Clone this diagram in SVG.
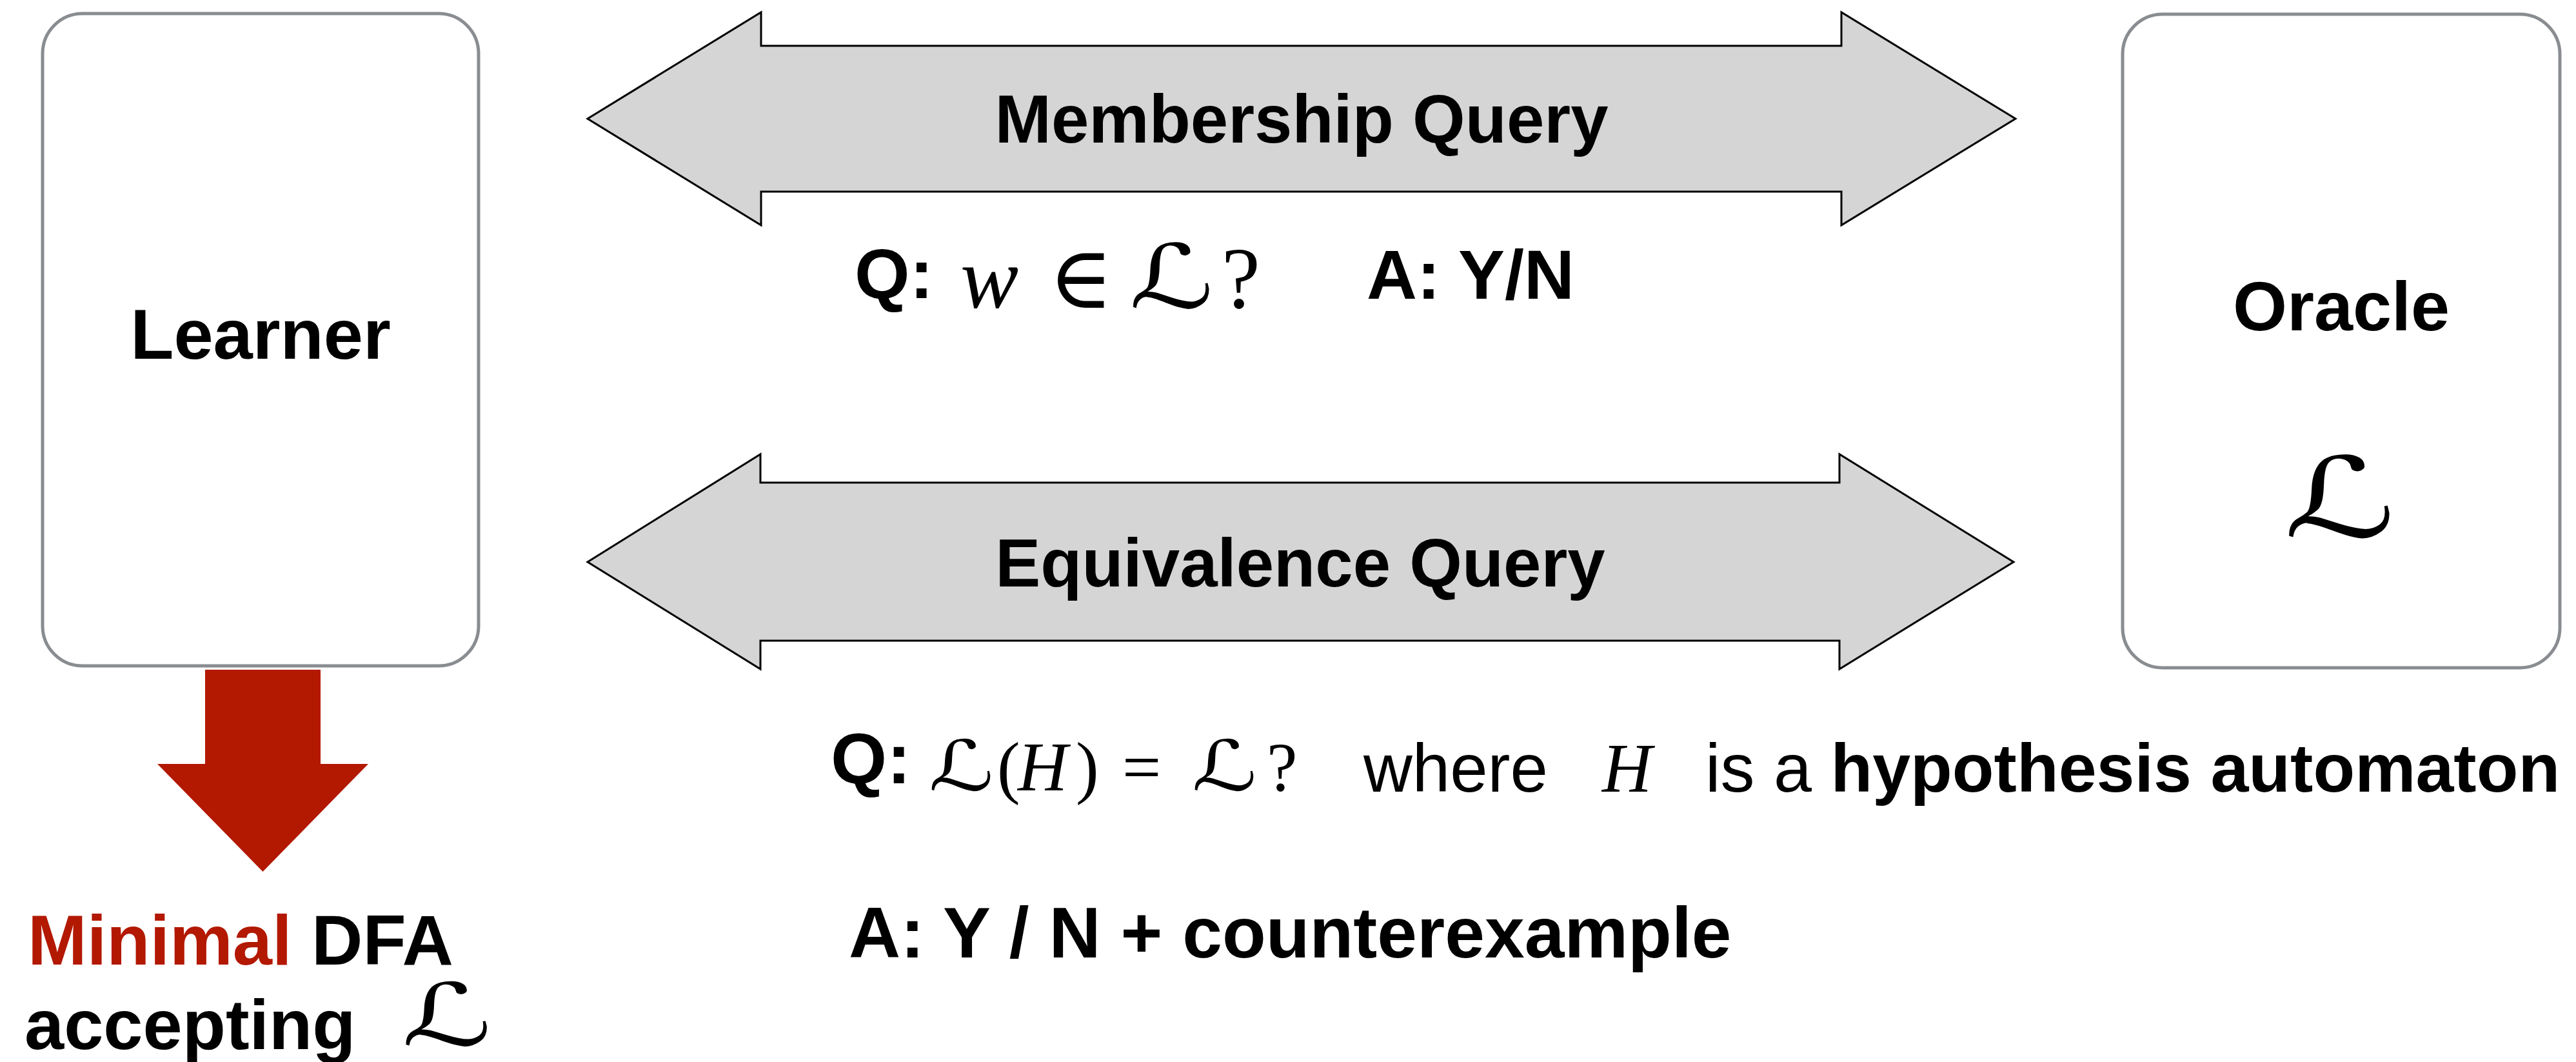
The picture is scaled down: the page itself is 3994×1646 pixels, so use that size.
<svg xmlns="http://www.w3.org/2000/svg" width="3994" height="1646" viewBox="0 0 3994 1646">
<style>
.box{fill:#ffffff;stroke:#898c90;stroke-width:5}
.dbl{fill:#d5d5d5;stroke:#000000;stroke-width:3;stroke-linejoin:miter}
.red{fill:#b31800}
.b{font-family:"Liberation Sans",Arial,sans-serif;font-weight:bold;fill:#000}
.r{font-family:"Liberation Sans",Arial,sans-serif;font-weight:normal;fill:#000}
.m{font-family:"Liberation Serif","DejaVu Serif",serif;fill:#000}
.mi{font-family:"Liberation Serif","DejaVu Serif",serif;font-style:italic;fill:#000}
.sc{font-family:"DejaVu Serif","DejaVu Sans",serif;fill:#000}
</style>
<rect width="3994" height="1646" fill="#ffffff"/>
<g id="learner">
<rect class="box" x="66" y="21" width="676" height="1011" rx="62" ry="62"/>
<text class="b" x="404" y="556" font-size="110" text-anchor="middle">Learner</text>
</g>
<g id="oracle">
<rect class="box" x="3291" y="22" width="678" height="1013" rx="62" ry="62"/>
<text class="b" x="3630" y="512" font-size="108" text-anchor="middle">Oracle</text>
<text class="sc" transform="translate(3628,832) scale(1.4,1)" font-size="172" text-anchor="middle">ℒ</text>
</g>
<g id="connectors">
<polygon class="dbl" points="911,184 1180,19 1180,71 2855,71 2855,19 3125,184 2855,349 2855,297 1180,297 1180,349"/>
<polygon class="dbl" points="911,871 1179,704 1179,748 2852,748 2852,704 3122,871 2852,1037 2852,993 1179,993 1179,1037"/>
<polygon class="red" points="318,1038 497,1038 497,1184 571,1184 407.5,1351 244,1184 318,1184"/>
<text class="b" x="2018" y="221" font-size="105" text-anchor="middle">Membership Query</text>
<text class="b" x="2016" y="909" font-size="105" text-anchor="middle">Equivalence Query</text>
</g>
<g id="membership-label">
<text class="b" x="1325" y="462" font-size="110">Q:</text>
<text class="mi" x="1489" y="477" font-size="135">w</text>
<text class="m" x="1626" y="477" font-size="135">∈</text>
<text class="sc" transform="translate(1751,477) scale(1.33,1)" font-size="137">ℒ</text>
<text class="m" x="1894" y="477" font-size="135">?</text>
<text class="b" x="2119" y="463" font-size="108">A: Y/N</text>
</g>
<g id="equivalence-label">
<text class="b" x="1288" y="1214" font-size="112">Q:</text>
<text class="sc" transform="translate(1440,1225) scale(1.3,1)" font-size="108">ℒ</text>
<text class="m" x="1546" y="1225" font-size="107">(</text>
<text class="mi" x="1578" y="1225" font-size="107">H</text>
<text class="m" x="1668" y="1225" font-size="107">)</text>
<text class="m" x="1740" y="1225" font-size="107">=</text>
<text class="sc" transform="translate(1848,1225) scale(1.3,1)" font-size="108">ℒ</text>
<text class="m" x="1964" y="1225" font-size="107">?</text>
<text class="r" x="2114" y="1227" font-size="105">where</text>
<text class="mi" x="2484" y="1227" font-size="107">H</text>
<text class="r" x="2644" y="1227" font-size="106">is a <tspan class="b">hypothesis automaton</tspan></text>
<text class="b" x="1316" y="1484" font-size="111">A: Y / N + counterexample</text>
</g>
<g id="result">
<text class="b" x="43" y="1495" font-size="110"><tspan fill="#b31800">Minimal</tspan> DFA</text>
<text class="b" x="38" y="1626" font-size="110">accepting</text>
<text class="sc" transform="translate(623,1620) scale(1.45,1)" font-size="134">ℒ</text>
</g>
</svg>
